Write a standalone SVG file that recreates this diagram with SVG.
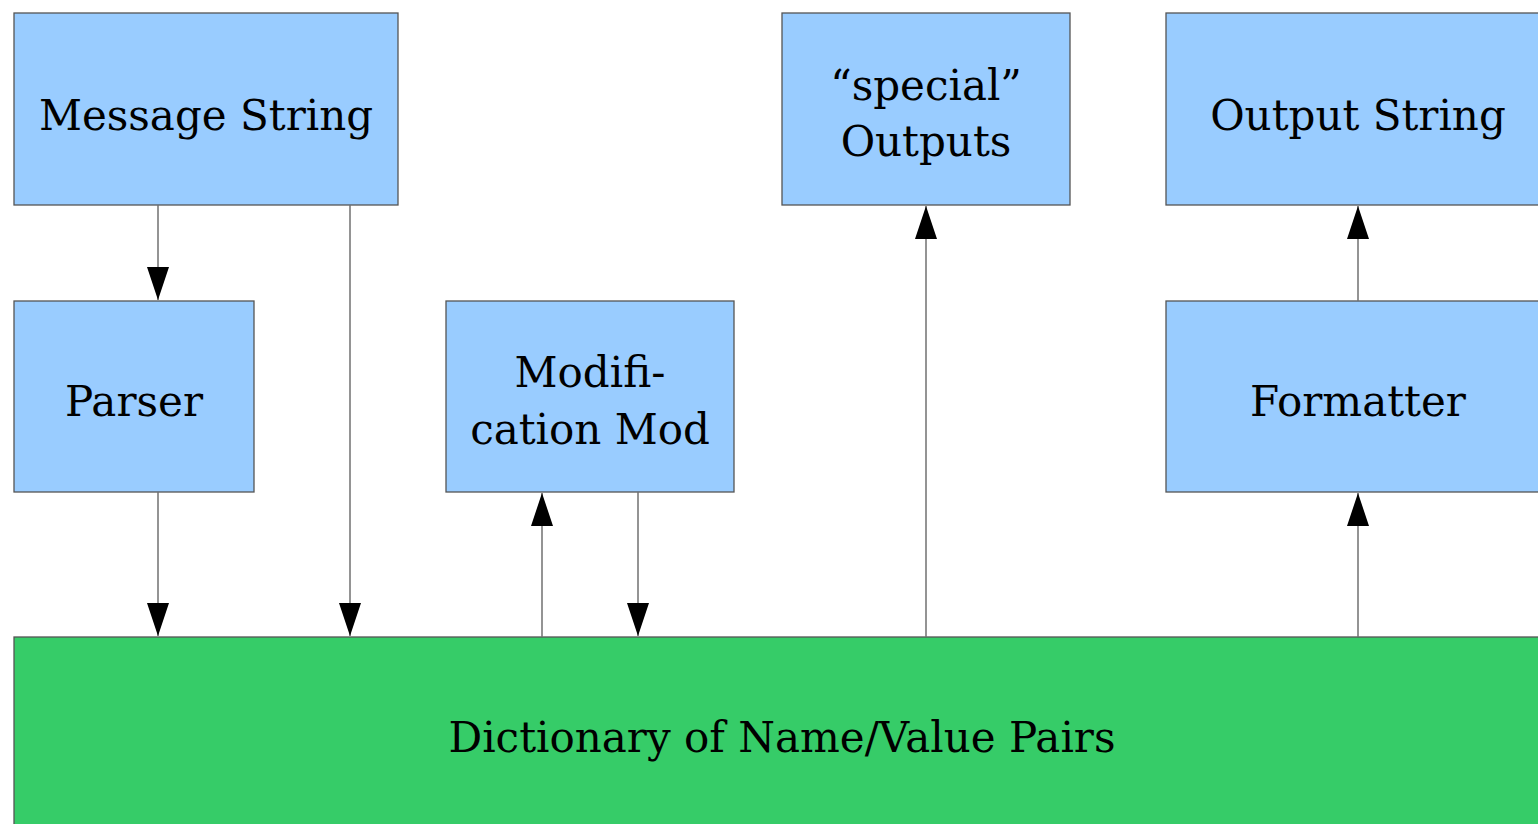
<svg xmlns="http://www.w3.org/2000/svg" width="1538" height="824" viewBox="0 0 1538 824">
<style>
.box{fill:#99ccff;stroke:#555555;stroke-width:1.3}
.dict{fill:#36cc68;stroke:#555555;stroke-width:1.3}
.lbl{font-family:"DejaVu Serif","Liberation Serif",serif;font-size:42px;fill:#000;text-anchor:middle}
.conn line{stroke:#707070;stroke-width:1.5}
</style>
<defs>
<marker id="ah" viewBox="0 0 33 22" refX="33" refY="11" markerWidth="33" markerHeight="22" markerUnits="userSpaceOnUse" orient="auto">
<path d="M0,0 L33,11 L0,22 Z" fill="#000"/>
</marker>
</defs>
<rect width="1538" height="824" fill="#fff"/>
<g id="dictionary"><rect class="dict" x="14" y="637" width="1540" height="200"/><text class="lbl" x="782" y="752">Dictionary of Name/Value Pairs</text></g>
<g id="message-string"><rect class="box" x="14" y="13" width="384" height="192"/><text class="lbl" x="206" y="130">Message String</text></g>
<g id="parser"><rect class="box" x="14" y="301" width="240" height="191"/><text class="lbl" x="134" y="416">Parser</text></g>
<g id="modification"><rect class="box" x="446" y="301" width="288" height="191"/><text class="lbl" x="590" y="387">Modifi-</text><text class="lbl" x="590" y="444">cation Mod</text></g>
<g id="special-outputs"><rect class="box" x="782" y="13" width="288" height="192"/><text class="lbl" x="926" y="100">“special”</text><text class="lbl" x="926" y="156">Outputs</text></g>
<g id="output-string"><rect class="box" x="1166" y="13" width="390" height="192"/><text class="lbl" x="1358" y="130">Output String</text></g>
<g id="formatter"><rect class="box" x="1166" y="301" width="390" height="191"/><text class="lbl" x="1358" y="416">Formatter</text></g>
<g id="connectors" class="conn">
<line x1="158" y1="205" x2="158" y2="300" marker-end="url(#ah)"/>
<line x1="350" y1="205" x2="350" y2="636" marker-end="url(#ah)"/>
<line x1="158" y1="492" x2="158" y2="636" marker-end="url(#ah)"/>
<line x1="542" y1="637" x2="542" y2="493" marker-end="url(#ah)"/>
<line x1="638" y1="492" x2="638" y2="636" marker-end="url(#ah)"/>
<line x1="926" y1="637" x2="926" y2="206" marker-end="url(#ah)"/>
<line x1="1358" y1="301" x2="1358" y2="206" marker-end="url(#ah)"/>
<line x1="1358" y1="637" x2="1358" y2="493" marker-end="url(#ah)"/>
</g>
</svg>
